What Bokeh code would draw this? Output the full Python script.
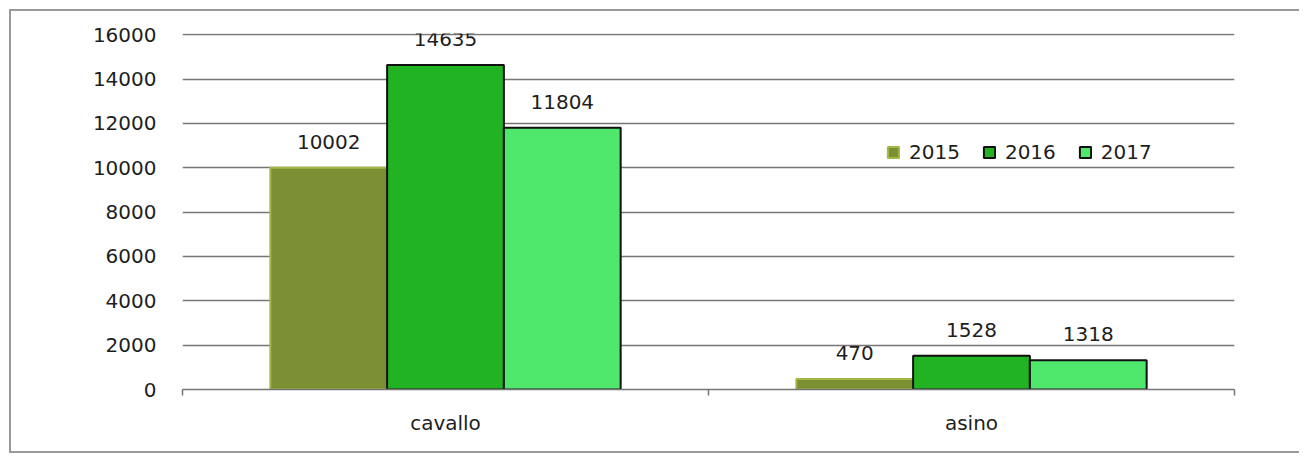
from bokeh.plotting import figure
from bokeh.models import (ColumnDataSource, Range1d, LinearAxis, FixedTicker, LabelSet, Legend)
from bokeh.core.properties import value
from bokeh.embed import file_html
from bokeh.resources import INLINE

categories = ["cavallo", "asino"]
years = ["2015", "2016", "2017"]
v2015 = [10002, 470]
v2016 = [14635, 1528]
v2017 = [11804, 1318]
y_ticks = [0, 2000, 4000, 6000, 8000, 10000, 12000, 14000, 16000]

FONT = "DejaVu Sans"
FS = "20px"
TXT = "#1e1e1e"
GRID = "#767676"

n = len(categories)
centers = [i + 0.5 for i in range(n)]
W = 0.222
offs = [-W, 0.0, W]
values = {"2015": v2015, "2016": v2016, "2017": v2017}

data = dict(cat=categories, xc=centers)
for yr, off in zip(years, offs):
    data["x" + yr] = [c + off for c in centers]
    data["v" + yr] = values[yr]
    data["l" + yr] = [str(v) for v in values[yr]]
src = ColumnDataSource(data)

p = figure(width=1290, height=444, x_range=Range1d(0, n), y_range=Range1d(0, 16060),
           output_backend="svg", toolbar_location=None, x_axis_location=None,
           min_border_left=171, min_border_right=67, min_border_top=22, min_border_bottom=66)
p.styles = {"border-top": "2px solid #9a9a9a", "border-left": "2px solid #9a9a9a",
            "border-bottom": "2px solid #9a9a9a", "margin-left": "9px", "margin-top": "9px"}
p.outline_line_color = None
p.background_fill_color = "white"
p.border_fill_color = "white"

# y axis
p.yaxis.ticker = FixedTicker(ticks=y_ticks)
p.yaxis.axis_line_color = None
p.yaxis.major_tick_line_color = None
p.yaxis.minor_tick_line_color = None
p.yaxis.major_label_standoff = 20
p.yaxis.major_label_text_font = FONT
p.yaxis.major_label_text_font_size = FS
p.yaxis.major_label_text_color = TXT
p.ygrid.ticker = FixedTicker(ticks=y_ticks)
p.ygrid.grid_line_color = GRID
p.ygrid.grid_line_width = 1.5
p.xgrid.grid_line_color = None

# bottom: tick-only axis at category boundaries, then category labels
tick_axis = LinearAxis(ticker=FixedTicker(ticks=list(range(n + 1))))
tick_axis.axis_line_color = GRID
tick_axis.axis_line_width = 1.5
tick_axis.major_tick_line_color = GRID
tick_axis.major_tick_line_width = 1.5
tick_axis.major_tick_out = 6
tick_axis.major_tick_in = 0
tick_axis.minor_tick_line_color = None
tick_axis.major_label_text_font_size = "1px"
tick_axis.major_label_text_alpha = 0
tick_axis.major_label_standoff = 0
p.add_layout(tick_axis, "below")

cat_axis = LinearAxis(ticker=FixedTicker(ticks=centers),
                      major_label_overrides={c: name for c, name in zip(centers, categories)})
cat_axis.axis_line_color = None
cat_axis.major_tick_line_color = None
cat_axis.minor_tick_line_color = None
cat_axis.major_label_standoff = 9
cat_axis.major_label_text_font = FONT
cat_axis.major_label_text_font_size = FS
cat_axis.major_label_text_color = TXT
p.add_layout(cat_axis, "below")

fills = ["#7b9033", "#22b322", "#4fe86c"]
lines = ["#a3b845", "#101010", "#101010"]
renderers = []
for yr, fc, lc in zip(years, fills, lines):
    r = p.vbar(x="x" + yr, top="v" + yr, width=W, source=src,
               fill_color=fc, line_color=lc, line_width=2)
    renderers.append((yr, r))
    lbl = LabelSet(x="x" + yr, y="v" + yr, text="l" + yr, source=src,
                   text_align="center", text_baseline="middle", y_offset=26,
                   text_font=value(FONT), text_font_size=value(FS), text_color=TXT)
    p.add_layout(lbl)

legend = Legend(items=[(yr, [r]) for yr, r in renderers], location=(704, 225),
                orientation="horizontal", border_line_color=None, background_fill_alpha=0,
                label_text_font=FONT, label_text_font_size=FS, label_text_color=TXT,
                glyph_width=14, glyph_height=14, label_standoff=9, spacing=22, padding=0, margin=0)
p.add_layout(legend, "center")

open("out.html", "w").write(file_html(p, INLINE))
